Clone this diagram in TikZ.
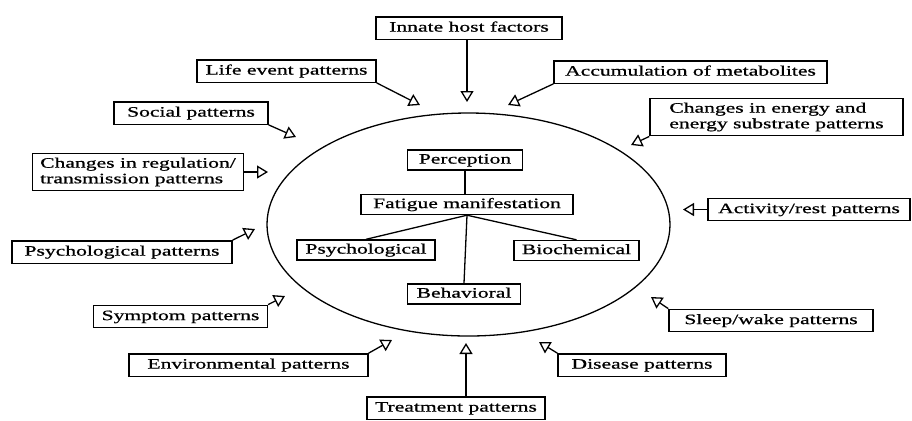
\documentclass[tikz,border=0pt]{standalone}
\usepackage{fontspec}
\setmainfont[FakeStretch=1.5,FakeBold=0.8]{Liberation Serif}
\usetikzlibrary{arrows.meta}
\tikzset{
  % Outer pattern box: fixed width
  pat2/.style={
    rectangle, draw, line width=0.7pt,
    minimum width=#1, inner xsep=4pt, inner ysep=2.2pt,
    align=center, font=\fontsize{7.2}{7.8}\selectfont
  },
  % Same box, one line
  pat/.style={pat2=#1, text height=5.2pt, text depth=1.6pt},
  % Inner stage box
  stg/.style={
    rectangle, draw, line width=0.7pt,
    minimum width=#1, inner xsep=4pt, inner ysep=1.6pt,
    text height=5.2pt, text depth=1.6pt,
    align=center, font=\fontsize{7.2}{7.8}\selectfont
  },
  % Open arrow towards the ellipse
  arr/.style={
    -{Triangle[open,length=5.5pt,width=6.5pt]},
    line width=0.65pt
  },
  % Plain link
  lnk/.style={line width=0.65pt}
}
\begin{document}
\begin{tikzpicture}[x=0.5pt,y=-0.5pt]
  \useasboundingbox (0,0) rectangle (912,420);

  % Ellipse
  \draw[line width=0.65pt] (468.5,224.5) ellipse [x radius=100.75pt, y radius=55.75pt];

  % Inner stages
  \node[stg=57.5pt]  (percep)  at (465,160)   {Perception};
  \node[stg=106pt]   (fatigue) at (467,204.5) {Fatigue manifestation};
  \node[stg=69pt]    (psych)   at (366,250)   {Psychological};
  \node[stg=61.5pt]  (bioch)   at (576.5,250.5) {Biochemical};
  \node[stg=56.5pt]  (behav)   at (464,294)   {Behavioral};

  \draw[lnk] (percep.south) -- (percep.south |- fatigue.north);
  \draw[lnk] (fatigue.south) -- (psych.north);
  \draw[lnk] (fatigue.south) -- (bioch.north);
  \draw[lnk] (fatigue.south) -- (behav.north);

  % Pattern boxes round the ellipse
  \node[pat=93pt]    (innate)   at (469,28)    {Innate host factors};
  \node[pat=89.5pt]  (life)     at (286.5,71)  {Life event patterns};
  \node[pat=77pt]    (social)   at (191,113)   {Social patterns};
  \node[pat2=105pt, align=left] (regul) at (138,172) {Changes in regulation/\\transmission patterns};
  \node[pat=136.5pt] (accum)    at (690.5,72)  {Accumulation of metabolites};
  \node[pat2=126.5pt, align=left] (energy) at (776.5,117) {Changes in energy and\\energy substrate patterns};
  \node[pat=101pt]   (activity) at (809,209.5) {Activity/rest patterns};
  \node[pat=110pt]   (psypat)   at (122,252)   {Psychological patterns};
  \node[pat=86.5pt]  (symptom)  at (180.5,316.5) {Symptom patterns};
  \node[pat=119.5pt] (environ)  at (248.5,365) {Environmental patterns};
  \node[pat=89pt]    (treat)    at (456,408)   {Treatment patterns};
  \node[pat=84pt]    (disease)  at (642,365)   {Disease patterns};
  \node[pat=102pt]   (sleep)    at (771,320.5) {Sleep/wake patterns};

  % Arrow tips
  \coordinate (tInnate)   at (467,102);
  \coordinate (tLife)     at (420,105);
  \coordinate (tSocial)   at (296,137);
  \coordinate (tRegul)    at (268,172);
  \coordinate (tAccum)    at (508,105);
  \coordinate (tEnergy)   at (631,145);
  \coordinate (tActivity) at (683,209.5);
  \coordinate (tPsypat)   at (255,229);
  \coordinate (tSymptom)  at (285,296);
  \coordinate (tEnviron)  at (392,340);
  \coordinate (tTreat)    at (466,343);
  \coordinate (tDisease)  at (539,342);
  \coordinate (tSleep)    at (651,297);

  \draw[arr] (innate.south -| tInnate) -- (tInnate);
  \draw[arr] (life.south east)    -- (tLife);
  \draw[arr] (social.south east)  -- (tSocial);
  \draw[arr] (regul.east)         -- (tRegul);
  \draw[arr] (accum.south west)   -- (tAccum);
  \draw[arr] (energy.south west)  -- (tEnergy);
  \draw[arr] (activity.west)      -- (tActivity);
  \draw[arr] (psypat.north east)  -- (tPsypat);
  \draw[arr] (symptom.north east) -- (tSymptom);
  \draw[arr] (environ.north east) -- (tEnviron);
  \draw[arr] (treat.north -| tTreat) -- (tTreat);
  \draw[arr] (disease.north west) -- (tDisease);
  \draw[arr] (sleep.north west)   -- (tSleep);

\end{tikzpicture}
\end{document}
